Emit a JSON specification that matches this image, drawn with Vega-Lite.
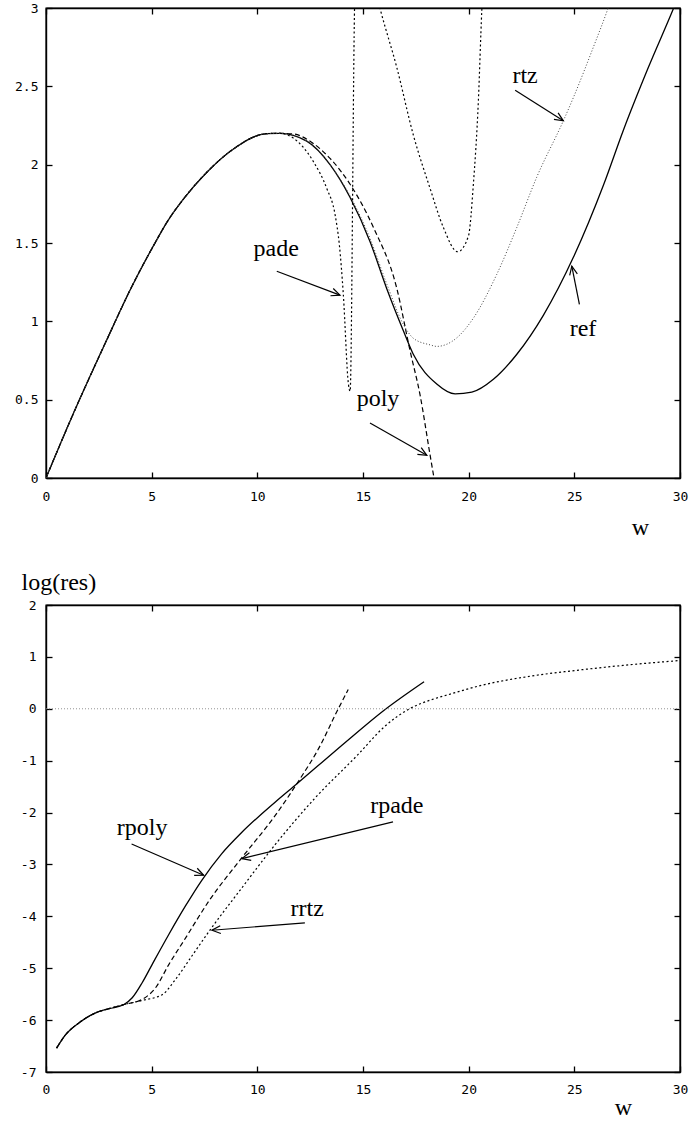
{
  "$schema": "https://vega.github.io/schema/vega-lite/v6.json",
  "background": "white",
  "padding": {"left": 13, "top": 1, "right": 0, "bottom": 0},
  "config": {
    "view": {"stroke": "black", "strokeWidth": 1.4},
    "axis": {"grid": false, "domainColor": "black", "domainWidth": 1.4, "tickColor": "black", "tickWidth": 1.3, "tickSize": -6, "labelFont": "DejaVu Sans Mono", "labelFontSize": 13, "labelColor": "black", "labelFlush": false, "labelOverlap": false, "titleFont": "Liberation Serif", "titleFontSize": 24, "titleFontWeight": "normal", "titleColor": "black"},
    "line": {"strokeWidth": 1.3, "color": "black", "interpolate": "monotone"},
    "concat": {"spacing": 29}
  },
  "datasets": {
    "top": [
      {"s":"ref","w":0,"v":0},{"s":"ref","w":1.29,"v":0.41},{"s":"ref","w":2.87,"v":0.88},{"s":"ref","w":3.98,"v":1.2},{"s":"ref","w":5.24,"v":1.52},{"s":"ref","w":5.71,"v":1.63},{"s":"ref","w":6.5,"v":1.78},{"s":"ref","w":7.6,"v":1.95},{"s":"ref","w":8.87,"v":2.1},{"s":"ref","w":10.44,"v":2.198},{"s":"ref","w":11.07,"v":2.2},{"s":"ref","w":12.34,"v":2.15},{"s":"ref","w":13.44,"v":2.0},{"s":"ref","w":14.39,"v":1.79},{"s":"ref","w":15.33,"v":1.51},{"s":"ref","w":16.12,"v":1.21},{"s":"ref","w":16.91,"v":0.94},{"s":"ref","w":17.38,"v":0.79},{"s":"ref","w":18.49,"v":0.6},{"s":"ref","w":19.36,"v":0.537},{"s":"ref","w":20.15,"v":0.548},{"s":"ref","w":21.17,"v":0.63},{"s":"ref","w":22.28,"v":0.79},{"s":"ref","w":23.54,"v":1.04},{"s":"ref","w":24.96,"v":1.41},{"s":"ref","w":26.38,"v":1.87},{"s":"ref","w":27.32,"v":2.22},{"s":"ref","w":28.5,"v":2.62},{"s":"ref","w":29.7,"v":3.0},{"s":"ref","w":30,"v":3.1},
      {"s":"poly","w":0,"v":0},{"s":"poly","w":1.29,"v":0.41},{"s":"poly","w":2.87,"v":0.88},{"s":"poly","w":3.98,"v":1.2},{"s":"poly","w":5.24,"v":1.52},{"s":"poly","w":5.71,"v":1.63},{"s":"poly","w":6.5,"v":1.78},{"s":"poly","w":7.6,"v":1.95},{"s":"poly","w":8.87,"v":2.1},{"s":"poly","w":10.44,"v":2.198},{"s":"poly","w":11.07,"v":2.2},{"s":"poly","w":11.7,"v":2.196},{"s":"poly","w":12.6,"v":2.14},{"s":"poly","w":13.44,"v":2.04},{"s":"poly","w":14.39,"v":1.875},{"s":"poly","w":15.49,"v":1.6},{"s":"poly","w":16.6,"v":1.21},{"s":"poly","w":17.23,"v":0.81},{"s":"poly","w":17.7,"v":0.53},{"s":"poly","w":18.17,"v":0.15},{"s":"poly","w":18.36,"v":0.0},
      {"s":"rtz","w":0,"v":0},{"s":"rtz","w":1.29,"v":0.41},{"s":"rtz","w":2.87,"v":0.88},{"s":"rtz","w":3.98,"v":1.2},{"s":"rtz","w":5.24,"v":1.52},{"s":"rtz","w":5.71,"v":1.63},{"s":"rtz","w":6.5,"v":1.78},{"s":"rtz","w":7.6,"v":1.95},{"s":"rtz","w":8.87,"v":2.1},{"s":"rtz","w":10.44,"v":2.198},{"s":"rtz","w":11.07,"v":2.2},{"s":"rtz","w":12.34,"v":2.15},{"s":"rtz","w":13.44,"v":2.0},{"s":"rtz","w":14.39,"v":1.8},{"s":"rtz","w":15.33,"v":1.53},{"s":"rtz","w":16.12,"v":1.24},{"s":"rtz","w":16.91,"v":0.98},{"s":"rtz","w":17.4,"v":0.89},{"s":"rtz","w":18.17,"v":0.85},{"s":"rtz","w":18.49,"v":0.84},{"s":"rtz","w":19.44,"v":0.895},{"s":"rtz","w":20.22,"v":1.02},{"s":"rtz","w":21.33,"v":1.3},{"s":"rtz","w":22.28,"v":1.6},{"s":"rtz","w":23.22,"v":1.92},{"s":"rtz","w":24.48,"v":2.28},{"s":"rtz","w":24.96,"v":2.43},{"s":"rtz","w":25.9,"v":2.75},{"s":"rtz","w":26.6,"v":3.0},{"s":"rtz","w":26.9,"v":3.12},
      {"s":"pade","w":0,"v":0},{"s":"pade","w":1.29,"v":0.41},{"s":"pade","w":2.87,"v":0.88},{"s":"pade","w":3.98,"v":1.2},{"s":"pade","w":5.24,"v":1.52},{"s":"pade","w":5.71,"v":1.63},{"s":"pade","w":6.5,"v":1.78},{"s":"pade","w":7.6,"v":1.95},{"s":"pade","w":8.87,"v":2.1},{"s":"pade","w":10.44,"v":2.198},{"s":"pade","w":11.07,"v":2.2},{"s":"pade","w":11.7,"v":2.17},{"s":"pade","w":12.65,"v":2.02},{"s":"pade","w":13.28,"v":1.85},{"s":"pade","w":13.68,"v":1.68},{"s":"pade","w":13.88,"v":1.49},{"s":"pade","w":14.07,"v":1.17},{"s":"pade","w":14.31,"v":0.6},{"s":"pade","w":14.39,"v":0.554},{"s":"pade","w":14.6,"v":3.0},{"s":"pade","w":14.75,"v":3.6},{"s":"pade","w":15.3,"v":3.27},{"s":"pade","w":15.84,"v":2.98},{"s":"pade","w":16.6,"v":2.62},{"s":"pade","w":17.38,"v":2.19},{"s":"pade","w":18.17,"v":1.85},{"s":"pade","w":18.8,"v":1.6},{"s":"pade","w":19.48,"v":1.444},{"s":"pade","w":19.99,"v":1.545},{"s":"pade","w":20.22,"v":1.87},{"s":"pade","w":20.46,"v":2.41},{"s":"pade","w":20.62,"v":2.98},{"s":"pade","w":20.7,"v":3.2}
    ],
    "bottom": [
      {"s":"rpoly","w":0.5,"v":-6.54},{"s":"rpoly","w":0.93,"v":-6.28},{"s":"rpoly","w":1.57,"v":-6.05},{"s":"rpoly","w":2.35,"v":-5.86},{"s":"rpoly","w":2.98,"v":-5.78},{"s":"rpoly","w":3.69,"v":-5.7},{"s":"rpoly","w":4.08,"v":-5.57},{"s":"rpoly","w":4.55,"v":-5.28},{"s":"rpoly","w":5.02,"v":-4.93},{"s":"rpoly","w":5.81,"v":-4.35},{"s":"rpoly","w":6.6,"v":-3.8},{"s":"rpoly","w":7.38,"v":-3.3},{"s":"rpoly","w":8.3,"v":-2.8},{"s":"rpoly","w":9.27,"v":-2.38},{"s":"rpoly","w":10.84,"v":-1.8},{"s":"rpoly","w":11.86,"v":-1.45},{"s":"rpoly","w":13.99,"v":-0.71},{"s":"rpoly","w":16.03,"v":-0.02},{"s":"rpoly","w":17.89,"v":0.52},
      {"s":"rpade","w":0.5,"v":-6.54},{"s":"rpade","w":0.93,"v":-6.28},{"s":"rpade","w":1.57,"v":-6.05},{"s":"rpade","w":2.35,"v":-5.86},{"s":"rpade","w":2.98,"v":-5.78},{"s":"rpade","w":3.69,"v":-5.7},{"s":"rpade","w":4.55,"v":-5.6},{"s":"rpade","w":5.18,"v":-5.38},{"s":"rpade","w":5.81,"v":-4.93},{"s":"rpade","w":6.6,"v":-4.42},{"s":"rpade","w":7.7,"v":-3.71},{"s":"rpade","w":9.27,"v":-2.87},{"s":"rpade","w":10.84,"v":-2.06},{"s":"rpade","w":11.86,"v":-1.45},{"s":"rpade","w":13.04,"v":-0.66},{"s":"rpade","w":13.67,"v":-0.13},{"s":"rpade","w":14.3,"v":0.37},
      {"s":"rrtz","w":0.5,"v":-6.54},{"s":"rrtz","w":0.93,"v":-6.28},{"s":"rrtz","w":1.57,"v":-6.05},{"s":"rrtz","w":2.35,"v":-5.86},{"s":"rrtz","w":2.98,"v":-5.78},{"s":"rrtz","w":3.69,"v":-5.7},{"s":"rrtz","w":4.55,"v":-5.62},{"s":"rrtz","w":5.5,"v":-5.51},{"s":"rrtz","w":6.12,"v":-5.22},{"s":"rrtz","w":6.91,"v":-4.76},{"s":"rrtz","w":7.75,"v":-4.27},{"s":"rrtz","w":9.27,"v":-3.45},{"s":"rrtz","w":10.84,"v":-2.62},{"s":"rrtz","w":12.73,"v":-1.72},{"s":"rrtz","w":14.77,"v":-0.88},{"s":"rrtz","w":16.0,"v":-0.35},{"s":"rrtz","w":17.2,"v":0.0},{"s":"rrtz","w":18.2,"v":0.17},{"s":"rrtz","w":19.02,"v":0.27},{"s":"rrtz","w":20.59,"v":0.45},{"s":"rrtz","w":22.95,"v":0.63},{"s":"rrtz","w":25.3,"v":0.75},{"s":"rrtz","w":27.67,"v":0.85},{"s":"rrtz","w":30,"v":0.93}
    ],
    "zero": [{"v": 0}],
    "labelsTop": [
      {"label":"pade","w":10.89,"v":1.417},{"label":"poly","w":15.71,"v":0.458},{"label":"ref","w":25.41,"v":0.905},{"label":"rtz","w":22.67,"v":2.522}
    ],
    "arrowsTop": [
      {"name":"pade","w":10.92,"v":1.32,"w2":13.91,"v2":1.167,"angle":20.8},
      {"name":"poly","w":15.33,"v":0.351,"w2":18.02,"v2":0.145,"angle":29.7},
      {"name":"ref","w":25.24,"v":1.108,"w2":24.88,"v2":1.352,"angle":258.6},
      {"name":"rtz","w":22.2,"v":2.475,"w2":24.48,"v2":2.28,"angle":32.4}
    ],
    "labelsBottom": [
      {"label":"rpoly","w":4.55,"v":-2.426},{"label":"rpade","w":16.6,"v":-2.008},{"label":"rrtz","w":12.36,"v":-3.987}
    ],
    "arrowsBottom": [
      {"name":"rpoly","w":4.05,"v":-2.605,"w2":7.46,"v2":-3.208,"angle":23.4},
      {"name":"rpade","w":16.42,"v":-2.18,"w2":9.27,"v2":-2.888,"angle":166.4},
      {"name":"rrtz","w":12.25,"v":-4.127,"w2":7.85,"v2":-4.268,"angle":175.5}
    ]
  },
  "vconcat": [
    {
      "width": 634,
      "height": 470,
      "resolve": {"axis": {"x": "independent", "y": "independent"}},
      "layer": [
        {
          "data": {"name": "top"},
          "transform": [{"filter": "datum.s === 'ref'"}],
          "mark": {"type": "line", "clip": true},
          "encoding": {
            "x": {"field": "w", "type": "quantitative", "scale": {"domain": [0, 30], "nice": false, "zero": false},
                  "axis": {"orient": "bottom", "values": [0,5,10,15,20,25,30], "labelPadding": 18, "labelExpr": "'' + datum.value", "title": "w", "titleAngle": 0, "titleX": 594, "titleY": 56, "titleAlign": "center", "titleBaseline": "alphabetic"}},
            "y": {"field": "v", "type": "quantitative", "scale": {"domain": [0, 3], "nice": false, "zero": false},
                  "axis": {"orient": "left", "values": [0,0.5,1,1.5,2,2.5,3], "labelPadding": 14, "labelExpr": "'' + datum.value", "title": null}}
          }
        },
        {
          "data": {"name": "top"},
          "transform": [{"filter": "datum.s === 'ref'"}],
          "mark": {"type": "point", "opacity": 0, "clip": true},
          "encoding": {
            "x": {"field": "w", "type": "quantitative", "scale": {"domain": [0, 30], "nice": false, "zero": false},
                  "axis": {"orient": "top", "values": [0,5,10,15,20,25,30], "labels": false, "title": null}},
            "y": {"field": "v", "type": "quantitative", "scale": {"domain": [0, 3], "nice": false, "zero": false},
                  "axis": {"orient": "right", "values": [0,0.5,1,1.5,2,2.5,3], "labels": false, "title": null}}
          }
        },
        {
          "data": {"name": "top"},
          "transform": [{"filter": "datum.s === 'poly'"}],
          "mark": {"type": "line", "strokeDash": [5, 3], "strokeWidth": 1.2, "clip": true},
          "encoding": {
            "x": {"field": "w", "type": "quantitative", "axis": null},
            "y": {"field": "v", "type": "quantitative", "axis": null}
          }
        },
        {
          "data": {"name": "top"},
          "transform": [{"filter": "datum.s === 'pade'"}],
          "mark": {"type": "line", "strokeDash": [2, 2.5], "strokeWidth": 1.2, "clip": true},
          "encoding": {
            "x": {"field": "w", "type": "quantitative", "axis": null},
            "y": {"field": "v", "type": "quantitative", "axis": null}
          }
        },
        {
          "data": {"name": "top"},
          "transform": [{"filter": "datum.s === 'rtz'"}],
          "mark": {"type": "line", "strokeDash": [1, 2], "strokeWidth": 1, "color": "#444444", "clip": true},
          "encoding": {
            "x": {"field": "w", "type": "quantitative", "axis": null},
            "y": {"field": "v", "type": "quantitative", "axis": null}
          }
        },
        {
          "data": {"name": "arrowsTop"},
          "mark": {"type": "rule", "color": "black", "strokeWidth": 1.2},
          "encoding": {
            "x": {"field": "w", "type": "quantitative", "axis": null},
            "y": {"field": "v", "type": "quantitative", "axis": null},
            "x2": {"field": "w2"},
            "y2": {"field": "v2"}
          }
        },
        {
          "data": {"name": "arrowsTop"},
          "mark": {"type": "point", "shape": "M-1,-0.45L0,0L-1,0.45", "filled": false, "stroke": "black", "strokeWidth": 1.2, "size": 300, "opacity": 1},
          "encoding": {
            "x": {"field": "w2", "type": "quantitative", "axis": null},
            "y": {"field": "v2", "type": "quantitative", "axis": null},
            "angle": {"field": "angle", "type": "quantitative", "scale": null}
          }
        },
        {
          "data": {"name": "labelsTop"},
          "mark": {"type": "text", "font": "Liberation Serif", "fontSize": 24, "align": "center", "baseline": "alphabetic", "color": "black"},
          "encoding": {
            "x": {"field": "w", "type": "quantitative", "axis": null},
            "y": {"field": "v", "type": "quantitative", "axis": null},
            "text": {"field": "label"}
          }
        }
      ]
    },
    {
      "width": 634,
      "height": 467,
      "resolve": {"axis": {"x": "independent", "y": "independent"}},
      "layer": [
        {
          "data": {"name": "bottom"},
          "transform": [{"filter": "datum.s === 'rpoly'"}],
          "mark": {"type": "line", "clip": true},
          "encoding": {
            "x": {"field": "w", "type": "quantitative", "scale": {"domain": [0, 30], "nice": false, "zero": false},
                  "axis": {"orient": "bottom", "values": [0,5,10,15,20,25,30], "labelPadding": 17, "labelExpr": "'' + datum.value", "title": "w", "titleAngle": 0, "titleX": 577, "titleY": 42, "titleAlign": "center", "titleBaseline": "alphabetic"}},
            "y": {"field": "v", "type": "quantitative", "scale": {"domain": [-7, 2], "nice": false, "zero": false},
                  "axis": {"orient": "left", "values": [-7,-6,-5,-4,-3,-2,-1,0,1,2], "labelPadding": 16, "labelExpr": "'' + datum.value", "title": "log(res)", "titleAngle": 0, "titleX": -25, "titleY": -16, "titleAlign": "left", "titleBaseline": "alphabetic"}}
          }
        },
        {
          "data": {"name": "bottom"},
          "transform": [{"filter": "datum.s === 'rpoly'"}],
          "mark": {"type": "point", "opacity": 0, "clip": true},
          "encoding": {
            "x": {"field": "w", "type": "quantitative", "scale": {"domain": [0, 30], "nice": false, "zero": false},
                  "axis": {"orient": "top", "values": [0,5,10,15,20,25,30], "labels": false, "title": null}},
            "y": {"field": "v", "type": "quantitative", "scale": {"domain": [-7, 2], "nice": false, "zero": false},
                  "axis": {"orient": "right", "values": [-7,-6,-5,-4,-3,-2,-1,0,1,2], "labels": false, "title": null}}
          }
        },
        {
          "data": {"name": "zero"},
          "mark": {"type": "rule", "color": "#888888", "strokeDash": [1, 2], "strokeWidth": 0.9},
          "encoding": {
            "y": {"field": "v", "type": "quantitative", "axis": null}
          }
        },
        {
          "data": {"name": "bottom"},
          "transform": [{"filter": "datum.s === 'rpade'"}],
          "mark": {"type": "line", "strokeDash": [5, 3], "strokeWidth": 1.2, "clip": true},
          "encoding": {
            "x": {"field": "w", "type": "quantitative", "axis": null},
            "y": {"field": "v", "type": "quantitative", "axis": null}
          }
        },
        {
          "data": {"name": "bottom"},
          "transform": [{"filter": "datum.s === 'rrtz'"}],
          "mark": {"type": "line", "strokeDash": [2, 2.5], "strokeWidth": 1.2, "clip": true},
          "encoding": {
            "x": {"field": "w", "type": "quantitative", "axis": null},
            "y": {"field": "v", "type": "quantitative", "axis": null}
          }
        },
        {
          "data": {"name": "arrowsBottom"},
          "mark": {"type": "rule", "color": "black", "strokeWidth": 1.2},
          "encoding": {
            "x": {"field": "w", "type": "quantitative", "axis": null},
            "y": {"field": "v", "type": "quantitative", "axis": null},
            "x2": {"field": "w2"},
            "y2": {"field": "v2"}
          }
        },
        {
          "data": {"name": "arrowsBottom"},
          "mark": {"type": "point", "shape": "M-1,-0.45L0,0L-1,0.45", "filled": false, "stroke": "black", "strokeWidth": 1.2, "size": 300, "opacity": 1},
          "encoding": {
            "x": {"field": "w2", "type": "quantitative", "axis": null},
            "y": {"field": "v2", "type": "quantitative", "axis": null},
            "angle": {"field": "angle", "type": "quantitative", "scale": null}
          }
        },
        {
          "data": {"name": "labelsBottom"},
          "mark": {"type": "text", "font": "Liberation Serif", "fontSize": 24, "align": "center", "baseline": "alphabetic", "color": "black"},
          "encoding": {
            "x": {"field": "w", "type": "quantitative", "axis": null},
            "y": {"field": "v", "type": "quantitative", "axis": null},
            "text": {"field": "label"}
          }
        }
      ]
    }
  ]
}
